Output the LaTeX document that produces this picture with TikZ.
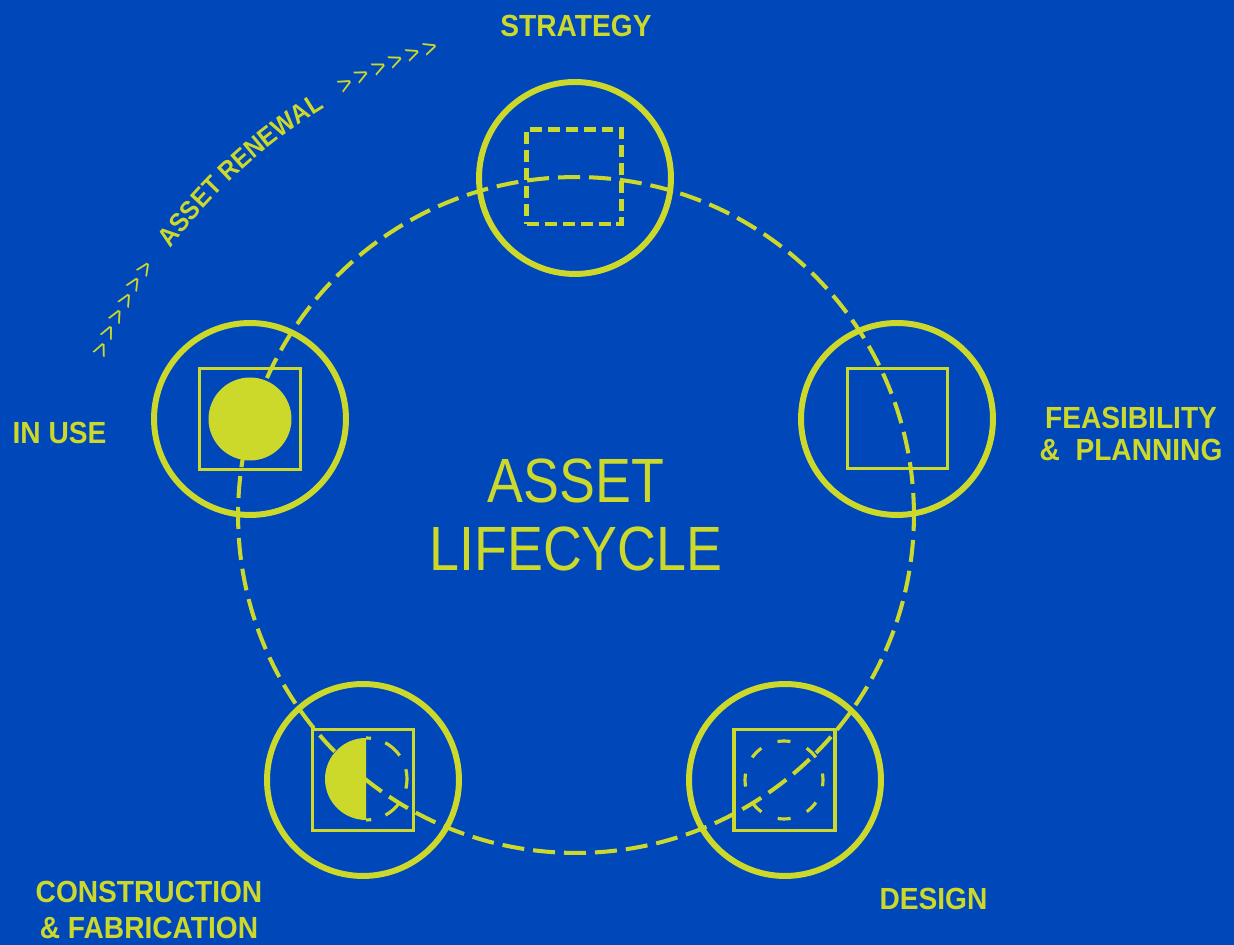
\documentclass[tikz,border=0pt]{standalone}
\usepackage{fontspec}
\usepackage{tikz}
\usetikzlibrary{decorations.text}
\newfontfamily\stagefont[FakeStretch=0.92]{Liberation Sans}
\newfontfamily\hubfont[FakeStretch=0.86]{Liberation Sans}
\definecolor{lifeblue}{HTML}{0048BA}
\definecolor{lifelime}{HTML}{CDD92A}

\begin{document}
\begin{tikzpicture}[x=0.02cm, y=0.02cm,
    stage/.style={circle, draw=lifelime, line width=3.4pt, minimum size=3.84cm, inner sep=0pt},
    icon/.style={rectangle, draw=lifelime, line width=1.87pt, minimum size=2.02cm, inner sep=0pt},
    stagelabel/.style={text=lifelime, align=center, inner sep=0pt, font=\stagefont\bfseries\fontsize{17.4}{18.4}\selectfont}]
    % Background
    \useasboundingbox (0,0) rectangle (1234,945);
    \fill [lifeblue] (0,0) rectangle (1234,945);

    % Dashed lifecycle ring
    \coordinate (hub) at (576,430);
    \draw [lifelime, line width=2.3pt, dash pattern=on 0.44cm off 0.18cm] (hub) circle [radius=6.76cm];

    % Stage circles
    \node [stage] (strategy) at (575,767) {};
    \node [stage] (feasibility) at (897,526) {};
    \node [stage] (design) at (785,165) {};
    \node [stage] (construction) at (363,165) {};
    \node [stage] (inuse) at (250,526) {};

    % Stage icons
    \node [icon, line width=2.3pt, minimum size=1.9cm, dash pattern=on 0.24cm off 0.12cm] (strategybox) at (574,768) {};
    \node [icon, minimum size=2cm] (feasibilitybox) at (897.5,526.5) {};
    \node [icon] (designbox) at (784.5,165) {};
    \draw [lifelime, line width=1.8pt, dash pattern=on 0.26cm off 0.353cm, dash phase=0.13cm] (784,165) circle [radius=0.78cm];
    \node [icon] (constructionbox) at (363,165) {};
    \fill [lifelime] (366,207) arc [start angle=90, end angle=270, radius=0.82cm] -- cycle;
    \draw [lifelime, line width=1.8pt, dash pattern=on 0.39cm off 0.30cm, dash phase=0.29cm] (366,207) arc [start angle=90, end angle=-90, radius=0.82cm];
    \node [icon] (inusebox) at (250,526) {};
    \node [circle, fill=lifelime, minimum size=1.66cm, inner sep=0pt] (inusedot) at (250,526) {};

    % Node Labels
    \node [text=lifelime, align=center, inner sep=0pt, font=\hubfont\fontsize{35.6}{39.1}\selectfont] (hublabel) at (hub) {ASSET\\LIFECYCLE};
    \node [stagelabel] (strategylabel) at (576,919) {STRATEGY};
    \node [stagelabel] (feasibilitylabel) at (1131,511) {FEASIBILITY\\\& \ PLANNING};
    \node [stagelabel] (designlabel) at (933.5,46) {DESIGN};
    \node [stagelabel, font=\stagefont\bfseries\fontsize{17.4}{21}\selectfont] (constructionlabel) at (149,35) {CONSTRUCTION\\\& FABRICATION};
    \node [stagelabel] (inuselabel) at (59.5,512) {IN USE};

    % Asset renewal arrows
    \coordinate (renewal) at (608,373);
    \path [decorate, decoration={text along path, text color=lifelime, text align=fit to path,
        text={|\stagefont\fontsize{15}{15}\selectfont|>>>>>>}}]
        (renewal) ++(157:10.9cm) arc [start angle=157, end angle=146, radius=10.9cm];
    \path [decorate, decoration={text along path, text color=lifelime, text align=fit to path,
        text={|\stagefont\bfseries\fontsize{15}{15}\selectfont|ASSET RENEWAL}}]
        (renewal) ++(143.5:10.88cm) arc [start angle=143.5, end angle=121.5, radius=10.88cm];
    \path [decorate, decoration={text along path, text color=lifelime, text align=fit to path,
        text={|\stagefont\fontsize{15}{15}\selectfont|>>>>>>}}]
        (renewal) ++(119:10.9cm) arc [start angle=119, end angle=108, radius=10.9cm];
\end{tikzpicture}
\end{document}
